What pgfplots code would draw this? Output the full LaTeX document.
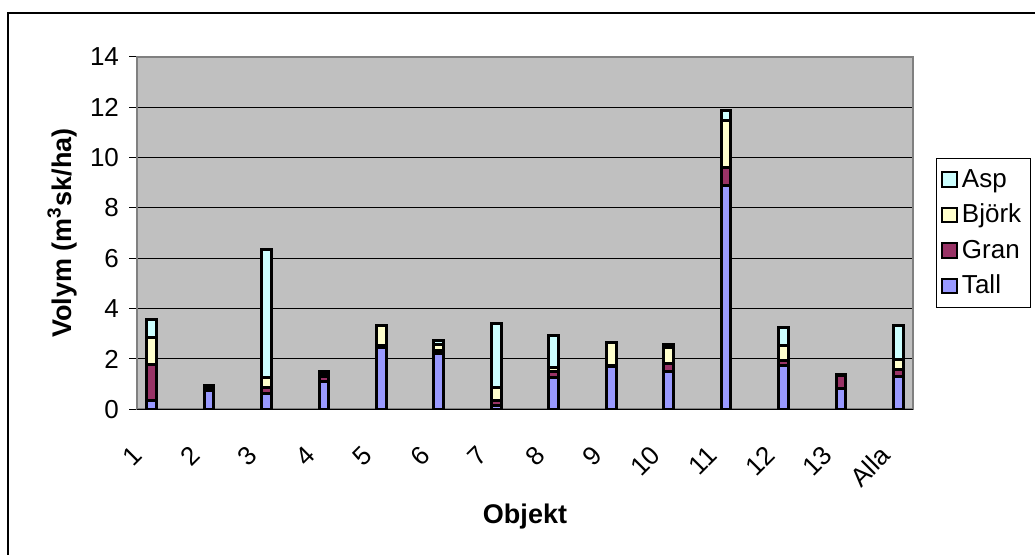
\documentclass[border=0pt]{standalone}
\usepackage{pgfplots}
\pgfplotsset{compat=1.18}
\usepackage{pgfplotstable}
\usepackage{fontspec}
\setmainfont{Liberation Sans}

\definecolor{tall}{HTML}{9999FF}
\definecolor{gran}{HTML}{993366}
\definecolor{bjork}{HTML}{FFFFCC}
\definecolor{asp}{HTML}{CCFFFF}
\definecolor{plotbg}{HTML}{C0C0C0}
\definecolor{frame}{HTML}{808080}

% Volume per tree species (m3sk/ha); objects at even positions, gaps between
\pgfplotstableread{
x  Tall Gran Bjork Asp
0  0.34 1.42 1.10 0.71
2  0.73 0.12 0.08 0.03
4  0.61 0.24 0.43 5.05
6  1.12 0.20 0.11 0.06
8  2.45 0.10 0.76 0.00
10 2.22 0.11 0.25 0.17
12 0.17 0.17 0.51 2.54
14 1.25 0.24 0.18 1.28
16 1.70 0.05 0.92 0.00
18 1.49 0.31 0.65 0.11
20 8.89 0.70 1.89 0.37
22 1.75 0.17 0.60 0.73
24 0.83 0.53 0.02 0.02
26 1.29 0.30 0.39 1.34
}\volym

\begin{document}
\begin{tikzpicture}
\useasboundingbox (0,0) rectangle (517.5pt,277pt);
\draw[line width=1pt] (4.15pt,-2pt) -- (4.15pt,270.35pt) -- (520pt,270.35pt);
\begin{axis}[
  at={(68.5pt,72.35pt)}, anchor=south west,
  scale only axis, width=388pt, height=176.3pt,
  xmin=-0.5, xmax=26.5, ymin=0, ymax=14,
  ybar stacked, bar width=4.8pt,
  axis background/.style={fill=plotbg},
  axis line style={draw=frame, line width=1pt},
  tick pos=left, tick align=outside,
  major tick length=4pt, minor tick length=4pt,
  ytick={0,2,...,14},
  y tick style={black, line width=0.5pt},
  ymajorgrids, major grid style={black, line width=0.5pt},
  xtick={0,2,...,26},
  xticklabels={1,2,3,4,5,6,7,8,9,10,11,12,13,Alla},
  x tick style={draw=none},
  minor xtick={-0.5,0.5,...,26.5},
  minor x tick style={black, line width=0.5pt},
  /pgf/number format/assume math mode=true,
  every tick label/.append style={font=\fontsize{13}{15}\selectfont},
  yticklabel style={xshift=-1.5pt},
  xticklabel style={xshift=-10pt, yshift=-8.5pt, rotate=45, anchor=north east},
  ylabel={\textbf{Volym (m\textsuperscript{3}sk/ha)}},
  ylabel style={at={(axis description cs:-0.0966,0.5)}, anchor=center, font=\fontsize{13.5}{15}\selectfont},
  xlabel={\textbf{Objekt}},
  xlabel style={at={(axis description cs:0.5,-0.3054)}, anchor=center, font=\fontsize{13.5}{15}\selectfont},
  every axis plot/.append style={draw=black, line width=1.5pt},
  reverse legend,
  legend cell align=left,
  legend style={at={(1,0.5)}, anchor=west, xshift=11.35pt, draw=black,
    line width=0.5pt, fill=white, font=\fontsize{13}{15}\selectfont,
    row sep=3pt, inner xsep=2.5pt, inner ysep=3.5pt},
  legend image code/.code={\draw[#1, draw=black, line width=1pt] (0pt,-3.7pt) rectangle (7.4pt,3.7pt);},
]
\addplot[fill=tall] table[x=x, y=Tall] {\volym};
\addplot[fill=gran] table[x=x, y=Gran] {\volym};
\addplot[fill=bjork] table[x=x, y=Bjork] {\volym};
\addplot[fill=asp] table[x=x, y=Asp] {\volym};
\legend{Tall, Gran, Björk, Asp}
\draw[black, line width=0.6pt] (axis cs:-0.5,0) -- (axis cs:26.5,0);
\end{axis}
\end{tikzpicture}
\end{document}
